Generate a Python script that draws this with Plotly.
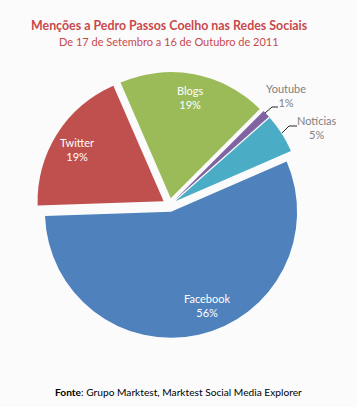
import plotly.graph_objects as go

W, H = 357, 407

categories = ["Facebook", "Twitter", "Blogs", "Youtube", "Notícias"]
values = [56, 19, 19, 1, 5]
colors = ["#4F81BD", "#C0504D", "#9BBB59", "#8064A2", "#4BACC6"]

title_text = "Menções a Pedro Passos Coelho nas Redes Sociais"
subtitle_text = "De 17 de Setembro a 16 de Outubro de 2011"
source_text = "<b>Fonte</b>: Grupo Marktest, Marktest Social Media Explorer"

FONT = "Lato, 'Liberation Sans', sans-serif"
BG = "#FBFBFC"


def px(x):
    return x / W


def py(y):
    return 1 - y / H


# pie geometry (pixels)
cx, cy, R = 169.5, 205, 133.0

fig = go.Figure()
fig.add_trace(go.Pie(
    labels=categories,
    values=values,
    sort=False,
    direction="clockwise",
    rotation=66.5,
    pull=[0.055] * len(values),
    marker=dict(colors=colors, line=dict(width=0)),
    textinfo="none",
    hoverinfo="label+percent",
    showlegend=False,
    domain=dict(x=[px(cx - R), px(cx + R)], y=[py(cy + R), py(cy - R)]),
))

# label placement (pixels) and styles
label_pos = {
    "Facebook": (207, 305, "white"),
    "Twitter": (77, 149, "white"),
    "Blogs": (190, 97, "white"),
    "Youtube": (286, 96, "#7F7F7F"),
    "Notícias": (316, 128, "#7F7F7F"),
}
total = sum(values)
annotations = []
for cat, v in zip(categories, values):
    x, y, col = label_pos[cat]
    annotations.append(dict(
        x=px(x), y=py(y), xref="paper", yref="paper",
        text=f"{cat}<br>{round(100 * v / total)}%",
        showarrow=False, xanchor="center", yanchor="middle",
        font=dict(family=FONT, size=11, color=col),
    ))

annotations += [
    dict(x=px(169), y=py(26), xref="paper", yref="paper", text=f"<b>{title_text}</b>",
         showarrow=False, xanchor="center", yanchor="middle",
         font=dict(family=FONT, size=12.4, color="#C8494B")),
    dict(x=px(168.5), y=py(42), xref="paper", yref="paper", text=subtitle_text,
         showarrow=False, xanchor="center", yanchor="middle",
         font=dict(family=FONT, size=11, color="#C8494B")),
    dict(x=px(178), y=py(392), xref="paper", yref="paper", text=source_text,
         showarrow=False, xanchor="center", yanchor="middle",
         font=dict(family=FONT, size=10.2, color="#000000")),
]

# leader lines (pixels)
leaders = [
    [(265, 113), (272, 107), (278, 107)],
    [(282, 133), (289, 126), (297, 126)],
]
shapes = []
for pts in leaders:
    path = "M " + " L ".join(f"{px(x)},{py(y)}" for x, y in pts)
    shapes.append(dict(type="path", xref="paper", yref="paper", path=path,
                       line=dict(color="#262626", width=1)))

fig.update_layout(
    width=W, height=H,
    margin=dict(l=0, r=0, t=0, b=0),
    paper_bgcolor=BG, plot_bgcolor=BG,
    annotations=annotations,
    shapes=shapes,
)

fig.write_html(
    "out.html",
    config={"displayModeBar": False},
    post_script="document.body.style.margin='0';document.body.style.background='" + BG + "';",
)
